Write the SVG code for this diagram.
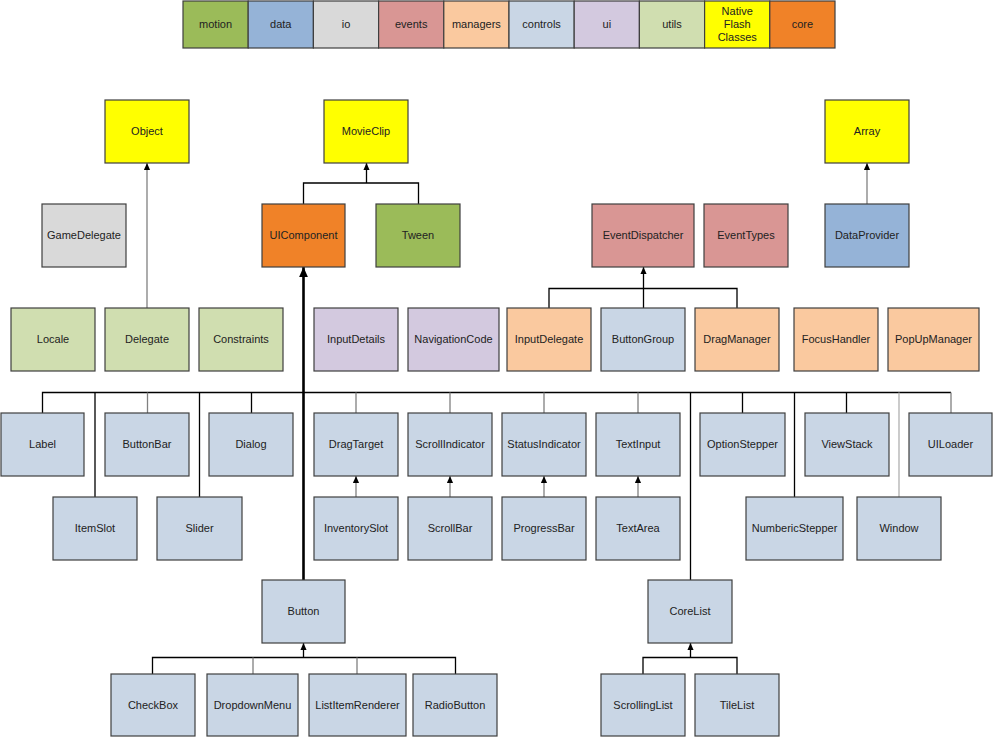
<svg xmlns="http://www.w3.org/2000/svg" width="993" height="737" viewBox="0 0 993 737">
<style>
text{font-family:"Liberation Sans",Arial,sans-serif;font-size:11px;fill:#222;text-anchor:middle}
.n rect{stroke:#3f3f3f;stroke-width:1.2}
.motion{fill:#9BBB59}.data{fill:#95B3D7}.io{fill:#D9D9D9}.events{fill:#D99694}.managers{fill:#FAC99F}
.controls{fill:#C9D6E5}.ui{fill:#D3C9DF}.utils{fill:#D0DEB0}.native{fill:#FFFF00}.core{fill:#F08228}
.k{stroke:#000;stroke-width:1.3;fill:none}
.g{stroke:#808080;stroke-width:1.3;fill:none}
.lg{stroke:#b0b0b0;stroke-width:1.3;fill:none}
.b{stroke:#000;stroke-width:2.6;fill:none}
</style>
<defs>
<marker id="a" viewBox="0 0 8 8" refX="8" refY="4" markerWidth="7" markerHeight="7" markerUnits="userSpaceOnUse" orient="auto"><path d="M0,0.5L8,4L0,7.5z" fill="#000"/></marker>
<marker id="ab" viewBox="0 0 8 8" refX="8" refY="4" markerWidth="10" markerHeight="10" markerUnits="userSpaceOnUse" orient="auto"><path d="M0,0.5L8,4L0,7.5z" fill="#000"/></marker>
</defs>
<g id="legend" class="n">
<rect class="motion" x="183" y="1" width="65.2" height="47"/><text x="215.6" y="28">motion</text>
<rect class="data" x="248.2" y="1" width="65.2" height="47"/><text x="280.8" y="28">data</text>
<rect class="io" x="313.4" y="1" width="65.2" height="47"/><text x="346" y="28">io</text>
<rect class="events" x="378.6" y="1" width="65.2" height="47"/><text x="411.2" y="28">events</text>
<rect class="managers" x="443.8" y="1" width="65.2" height="47"/><text x="476.4" y="28">managers</text>
<rect class="controls" x="509" y="1" width="65.2" height="47"/><text x="541.6" y="28">controls</text>
<rect class="ui" x="574.2" y="1" width="65.2" height="47"/><text x="606.8" y="28">ui</text>
<rect class="utils" x="639.4" y="1" width="65.2" height="47"/><text x="672" y="28">utils</text>
<rect class="native" x="704.6" y="1" width="65.2" height="47"/><text x="737.2" y="15">Native</text><text x="737.2" y="28">Flash</text><text x="737.2" y="41">Classes</text>
<rect class="core" x="769.8" y="1" width="65.2" height="47"/><text x="802.4" y="28">core</text>
</g>
<g id="connectors">
<path class="g" d="M147,308V163" marker-end="url(#a)"/>
<path class="k" d="M303.5,204V183H418.5V204"/>
<path class="k" d="M366.5,183V163" marker-end="url(#a)"/>
<path class="g" d="M867,204V163" marker-end="url(#a)"/>
<path class="k" d="M549,308V288.5H737V308"/>
<path class="k" d="M643.5,308V267" marker-end="url(#a)"/>
<path class="k" d="M42.5,413V392.5H951"/>
<path class="k" d="M251.5,392.5V413M742.5,392.5V413M846.5,392.5V413"/>
<path class="k" d="M95,392.5V497M199.5,392.5V497M794.5,392.5V497M690.5,392.5V580"/>
<path class="lg" d="M899,392.5V497"/>
<path class="g" d="M147.5,392.5V413M356,392.5V413M450,392.5V413M544,392.5V413M638,392.5V413M951,392.5V413"/>
<path class="b" d="M303.5,580V267" marker-end="url(#ab)"/>
<path class="g" d="M356,497V476" marker-end="url(#a)"/>
<path class="g" d="M450,497V476" marker-end="url(#a)"/>
<path class="g" d="M544,497V476" marker-end="url(#a)"/>
<path class="g" d="M638,497V476" marker-end="url(#a)"/>
<path class="k" d="M152.5,674V657.5H455.5V674"/>
<path class="g" d="M253,657.5V674M357,657.5V674"/>
<path class="k" d="M303.5,657.5V643" marker-end="url(#a)"/>
<path class="k" d="M643,674V657.5H737V674"/>
<path class="k" d="M690.5,657.5V643" marker-end="url(#a)"/>
</g>
<g id="Object" class="n"><rect class="native" x="105" y="100" width="84" height="63"/><text x="147" y="135">Object</text></g>
<g id="MovieClip" class="n"><rect class="native" x="324" y="100" width="84" height="63"/><text x="366" y="135">MovieClip</text></g>
<g id="Array" class="n"><rect class="native" x="825" y="100" width="84" height="63"/><text x="867" y="135">Array</text></g>
<g id="GameDelegate" class="n"><rect class="io" x="42" y="204" width="84" height="63"/><text x="84" y="239">GameDelegate</text></g>
<g id="UIComponent" class="n"><rect class="core" x="262" y="204" width="83" height="63"/><text x="303.5" y="239">UIComponent</text></g>
<g id="Tween" class="n"><rect class="motion" x="376" y="204" width="84" height="63"/><text x="418" y="239">Tween</text></g>
<g id="EventDispatcher" class="n"><rect class="events" x="592" y="204" width="102" height="63"/><text x="643" y="239">EventDispatcher</text></g>
<g id="EventTypes" class="n"><rect class="events" x="704" y="204" width="84" height="63"/><text x="746" y="239">EventTypes</text></g>
<g id="DataProvider" class="n"><rect class="data" x="825" y="204" width="84" height="63"/><text x="867" y="239">DataProvider</text></g>
<g id="Locale" class="n"><rect class="utils" x="11" y="308" width="84" height="63"/><text x="53" y="343">Locale</text></g>
<g id="Delegate" class="n"><rect class="utils" x="105" y="308" width="84" height="63"/><text x="147" y="343">Delegate</text></g>
<g id="Constraints" class="n"><rect class="utils" x="199" y="308" width="84" height="63"/><text x="241" y="343">Constraints</text></g>
<g id="InputDetails" class="n"><rect class="ui" x="314" y="308" width="84" height="63"/><text x="356" y="343">InputDetails</text></g>
<g id="NavigationCode" class="n"><rect class="ui" x="408" y="308" width="91" height="63"/><text x="453.5" y="343">NavigationCode</text></g>
<g id="InputDelegate" class="n"><rect class="managers" x="507" y="308" width="84" height="63"/><text x="549" y="343">InputDelegate</text></g>
<g id="ButtonGroup" class="n"><rect class="controls" x="601" y="308" width="84" height="63"/><text x="643" y="343">ButtonGroup</text></g>
<g id="DragManager" class="n"><rect class="managers" x="695" y="308" width="84" height="63"/><text x="737" y="343">DragManager</text></g>
<g id="FocusHandler" class="n"><rect class="managers" x="794" y="308" width="84" height="63"/><text x="836" y="343">FocusHandler</text></g>
<g id="PopUpManager" class="n"><rect class="managers" x="888" y="308" width="91" height="63"/><text x="933.5" y="343">PopUpManager</text></g>
<g id="Label" class="n"><rect class="controls" x="1" y="413" width="83" height="63"/><text x="42.5" y="448">Label</text></g>
<g id="ButtonBar" class="n"><rect class="controls" x="105" y="413" width="84" height="63"/><text x="147" y="448">ButtonBar</text></g>
<g id="Dialog" class="n"><rect class="controls" x="209" y="413" width="84" height="63"/><text x="251" y="448">Dialog</text></g>
<g id="DragTarget" class="n"><rect class="controls" x="314" y="413" width="84" height="63"/><text x="356" y="448">DragTarget</text></g>
<g id="ScrollIndicator" class="n"><rect class="controls" x="408" y="413" width="84" height="63"/><text x="450" y="448">ScrollIndicator</text></g>
<g id="StatusIndicator" class="n"><rect class="controls" x="502" y="413" width="84" height="63"/><text x="544" y="448">StatusIndicator</text></g>
<g id="TextInput" class="n"><rect class="controls" x="596" y="413" width="84" height="63"/><text x="638" y="448">TextInput</text></g>
<g id="OptionStepper" class="n"><rect class="controls" x="700" y="413" width="85" height="63"/><text x="742.5" y="448">OptionStepper</text></g>
<g id="ViewStack" class="n"><rect class="controls" x="805" y="413" width="84" height="63"/><text x="847" y="448">ViewStack</text></g>
<g id="UILoader" class="n"><rect class="controls" x="909" y="413" width="83" height="63"/><text x="950.5" y="448">UILoader</text></g>
<g id="ItemSlot" class="n"><rect class="controls" x="53" y="497" width="84" height="63"/><text x="95" y="532">ItemSlot</text></g>
<g id="Slider" class="n"><rect class="controls" x="157" y="497" width="85" height="63"/><text x="199.5" y="532">Slider</text></g>
<g id="InventorySlot" class="n"><rect class="controls" x="314" y="497" width="84" height="63"/><text x="356" y="532">InventorySlot</text></g>
<g id="ScrollBar" class="n"><rect class="controls" x="408" y="497" width="84" height="63"/><text x="450" y="532">ScrollBar</text></g>
<g id="ProgressBar" class="n"><rect class="controls" x="502" y="497" width="84" height="63"/><text x="544" y="532">ProgressBar</text></g>
<g id="TextArea" class="n"><rect class="controls" x="596" y="497" width="84" height="63"/><text x="638" y="532">TextArea</text></g>
<g id="NumbericStepper" class="n"><rect class="controls" x="746" y="497" width="97" height="63"/><text x="794.5" y="532">NumbericStepper</text></g>
<g id="Window" class="n"><rect class="controls" x="857" y="497" width="84" height="63"/><text x="899" y="532">Window</text></g>
<g id="Button" class="n"><rect class="controls" x="262" y="580" width="83" height="63"/><text x="303.5" y="615">Button</text></g>
<g id="CoreList" class="n"><rect class="controls" x="648" y="580" width="84" height="63"/><text x="690" y="615">CoreList</text></g>
<g id="CheckBox" class="n"><rect class="controls" x="111" y="674" width="84" height="62"/><text x="153" y="709">CheckBox</text></g>
<g id="DropdownMenu" class="n"><rect class="controls" x="207" y="674" width="91" height="62"/><text x="252.5" y="709">DropdownMenu</text></g>
<g id="ListItemRenderer" class="n"><rect class="controls" x="309" y="674" width="97" height="62"/><text x="357.5" y="709">ListItemRenderer</text></g>
<g id="RadioButton" class="n"><rect class="controls" x="413" y="674" width="84" height="62"/><text x="455" y="709">RadioButton</text></g>
<g id="ScrollingList" class="n"><rect class="controls" x="601" y="674" width="84" height="62"/><text x="643" y="709">ScrollingList</text></g>
<g id="TileList" class="n"><rect class="controls" x="695" y="674" width="84" height="62"/><text x="737" y="709">TileList</text></g>
</svg>
